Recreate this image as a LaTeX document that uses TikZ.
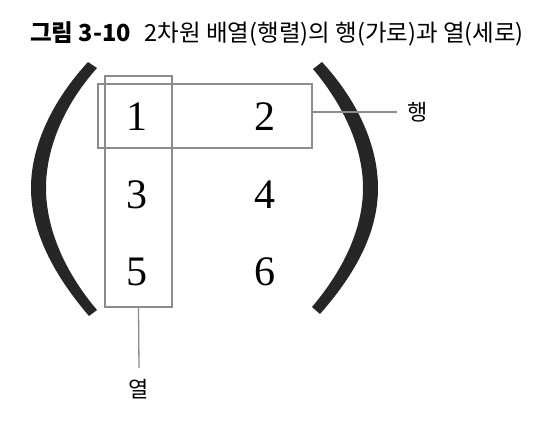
\documentclass[tikz,border=0pt]{standalone}
\usepackage{fontspec}
\setmainfont{Liberation Serif}
\newfontfamily\kr{Noto Sans CJK KR}
\begin{document}
\begin{tikzpicture}[x=1pt,y=-1pt,
  num/.style={font=\fontsize{42}{42}\selectfont, inner sep=0pt},
  grbox/.style={draw=black!45, line width=1.3pt, inner sep=0pt},
  conn/.style={draw=black!45, line width=1.3pt},
  lab/.style={font=\kr\fontsize{22}{22}\selectfont, inner sep=0pt},
  paren/.style={fill=black!85, draw=none}]
\useasboundingbox[fill=white] (0,0) rectangle (550,426);
% title
\node[anchor=base west, inner sep=0pt, font=\kr\fontsize{23.5}{23.5}\selectfont] (title) at (30,41)
  {\textbf{그림 3-10}\hspace{14pt}2차원 배열(행렬)의 행(가로)과 열(세로)};
% parentheses
\path[paren] (88,62) .. controls (53,100) and (31,145) .. (31,188)
  .. controls (31,231) and (53,274) .. (89,316)
  -- (97,310) .. controls (64,271) and (46,228) .. (46,188)
  .. controls (46,148) and (64,105) .. (97,68) -- cycle;
\path[paren] (322,62) .. controls (357,100) and (378,145) .. (378,188)
  .. controls (378,231) and (357,272) .. (320,314)
  -- (312,307) .. controls (345,268) and (363,227) .. (363,188)
  .. controls (363,149) and (345,107) .. (313,69) -- cycle;
% numbers
\node[num] (n1) at (137,117) {1};
\node[num] (n2) at (265,117) {2};
\node[num] (n3) at (137,195) {3};
\node[num] (n4) at (265,195) {4};
\node[num] (n5) at (137,272) {5};
\node[num] (n6) at (265,272) {6};
% boxes
\node[grbox, minimum width=67pt, minimum height=231pt] (colbox) at (138.5,191.5) {};
\node[grbox, minimum width=214pt, minimum height=64pt] (rowbox) at (205,116) {};
% labels
\node[lab] (hang) at (418,112) {행};
\node[lab] (yeol) at (139,389) {열};
\coordinate (hangend) at (397,112);
\coordinate (yeolend) at (139,368);
\draw[conn] (rowbox.east |- hangend) -- (hangend);
\draw[conn] (colbox.south) -- (yeolend);
\end{tikzpicture}
\end{document}
